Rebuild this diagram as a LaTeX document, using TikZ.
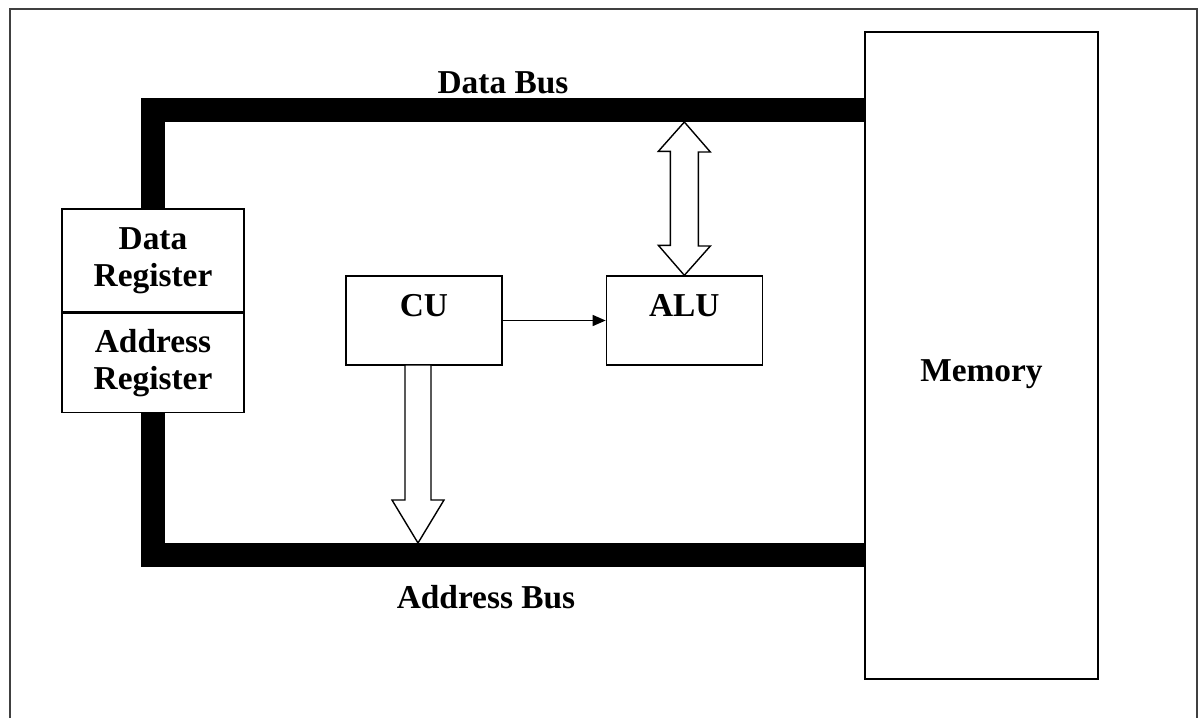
\documentclass[tikz,border=0pt]{standalone}
\usepackage{fontspec}
\setmainfont{Liberation Serif}
\usetikzlibrary{positioning,arrows.meta}

\begin{document}
\begin{tikzpicture}[x=0.02cm,y=-0.02cm,
  box/.style={draw,line width=0.8pt,inner sep=0pt,align=center,
    font=\bfseries\fontsize{19}{21}\selectfont},
  lbl/.style={font=\bfseries\fontsize{19}{21}\selectfont},
  bus/.style={line width=0.48cm,line join=miter},
  hollow/.style={draw,line width=0.8pt,fill=white,line join=miter}]
  \useasboundingbox (0,0) rectangle (1201,718);
  \draw[line width=1pt,black!75] (10,718) -- (10,9) -- (1197,9) -- (1197,718);

  \node[box,minimum width=4.66cm,text height=6.98cm,text depth=5.96cm] (mem) at (981.5,355.5) {Memory};
  \node[box,minimum width=3.64cm,minimum height=2.06cm] (dreg) at (153,260.5) {Data\\Register};
  \node[box,minimum width=3.64cm,minimum height=1.98cm] (areg) [below=0pt of dreg] {Address\\Register};
  \node[box,minimum width=3.12cm,text height=0.8cm,text depth=0.98cm] (cu) at (424,320.5) {CU};
  \node[box,minimum width=3.12cm,text height=0.8cm,text depth=0.98cm] (alu) [right=2.06cm of cu] {ALU};

  \coordinate (dbus) at (mem.west |- 0,110);
  \coordinate (abus) at (mem.west |- 0,555);
  \draw[bus] (dreg.north) |- (dbus);
  \draw[bus] (areg.south) |- (abus);
  \node[lbl] (dblabel) at (503,83) {Data Bus};
  \node[lbl] (ablabel) at (486,597) {Address Bus};

  \path[-{Triangle[length=0.26cm,width=0.22cm]},line width=0.8pt]
  (cu) edge (alu);

  % hollow arrows
  \coordinate (dtop) at (alu.north |- 0,122);
  \draw[hollow] (dtop) -- ++(26,30) -- ++(-12,0) -- ++(0,94) -- ++(12,0) -- (alu.north)
    -- ++(-26,-30) -- ++(12,0) -- ++(0,-94) -- ++(-12,0) -- cycle;
  \coordinate (atip) at (418,543);
  \draw[hollow] (atip) -- ++(26,-43) -- ++(-13,0) -- ++(0,-135) -- ++(-26,0)
    -- ++(0,135) -- ++(-13,0) -- cycle;
\end{tikzpicture}
\end{document}
